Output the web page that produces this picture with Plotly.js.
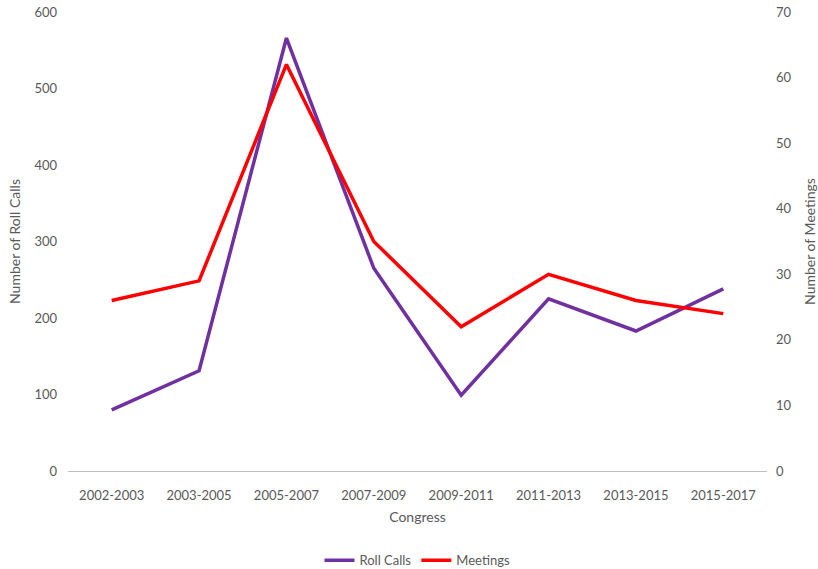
<!DOCTYPE html>
<html>
<head>
<meta charset="utf-8">
<script src="https://cdn.plot.ly/plotly-3.0.1.min.js"></script>
<style>html,body{margin:0;padding:0;background:#fff;}#chart{width:818px;height:569px;}</style>
</head>
<body>
<div id="chart"></div>
<script>
const congress = ["2002-2003","2003-2005","2005-2007","2007-2009","2009-2011","2011-2013","2013-2015","2015-2017"];
const rollCalls = [80, 131, 566, 265, 99, 225, 183, 238];
const meetings = [26, 29, 62, 35, 22, 30, 26, 24];

const font = {family: "Lato, 'Open Sans', sans-serif", size: 13, color: "#595959"};
const titleFont = {family: font.family, size: 14, color: "#595959"};

const traces = [
  {x: congress, y: rollCalls, name: "Roll Calls", type: "scatter", mode: "lines",
   line: {color: "#7030A0", width: 3.5}, yaxis: "y"},
  {x: congress, y: meetings, name: "Meetings", type: "scatter", mode: "lines",
   line: {color: "#FF0000", width: 3.5}, yaxis: "y2"}
];

const layout = {
  width: 818, height: 569,
  paper_bgcolor: "#fff", plot_bgcolor: "#fff",
  font: font,
  showlegend: true,
  legend: {orientation: "h", x: 0.5, xanchor: "center", y: -0.227, yanchor: "bottom", font: font},
  margin: {l: 68, r: 51, t: 12, b: 98, autoexpand: false},
  xaxis: {
    type: "category", range: [-0.5, congress.length - 0.5], autorange: false,
    showgrid: false, zeroline: false,
    showline: true, linecolor: "#BFBFBF", linewidth: 1,
    ticks: "", tickfont: font, ticklabelstandoff: 12,
    title: {text: "Congress", font: titleFont, standoff: 10}
  },
  yaxis: {
    range: [0, 600], dtick: 100, showgrid: false, zeroline: false, showline: false,
    ticks: "", tickfont: font, ticklabelstandoff: 10,
    title: {text: "Number of Roll Calls", font: titleFont, standoff: 10}
  },
  yaxis2: {
    range: [0, 70], dtick: 10, overlaying: "y", side: "right",
    showgrid: false, zeroline: false, showline: false,
    ticks: "", tickfont: font, ticklabelstandoff: 8,
    title: {text: "Number of Meetings", font: titleFont, standoff: 14}
  }
};

Plotly.newPlot("chart", traces, layout, {displayModeBar: false, responsive: false});
</script>
</body>
</html>
